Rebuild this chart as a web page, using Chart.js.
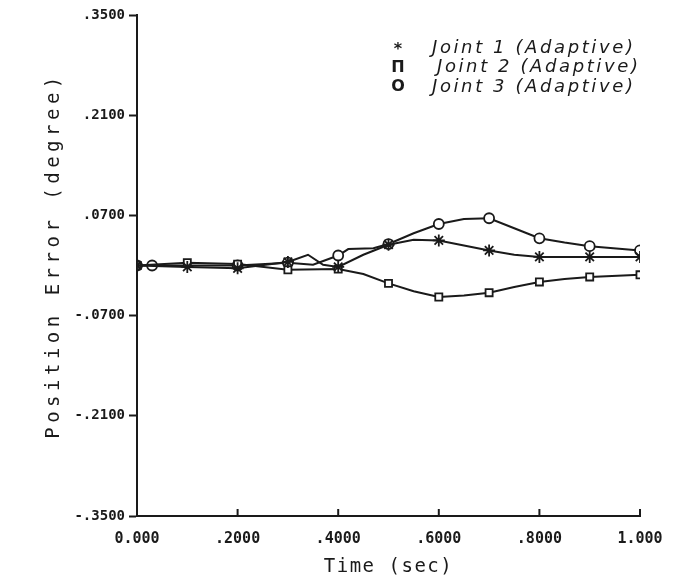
<!DOCTYPE html>
<html>
<head>
<meta charset="utf-8">
<script src="https://cdn.jsdelivr.net/npm/chart.js@4.4.0/dist/chart.umd.min.js"></script>
<style>
  body { margin: 0; background: #fff; }
</style>
</head>
<body>
<canvas id="chart" width="681" height="579"></canvas>
<script>
// time (sec) of each trace and its position error (degree)
const time1 = [0, 0.1, 0.2, 0.3, 0.34, 0.37, 0.4, 0.45, 0.5, 0.55, 0.6, 0.65, 0.7, 0.75, 0.8, 0.9, 1.0];
const joint1 = [0, -0.002, -0.004, 0.005, 0.015, 0.001, -0.002, 0.015, 0.029, 0.036, 0.035, 0.028, 0.021, 0.015, 0.012, 0.012, 0.012];
const marks1 = [0, 0.1, 0.2, 0.3, 0.4, 0.5, 0.6, 0.7, 0.8, 0.9, 1.0];

const time2 = [0, 0.1, 0.2, 0.3, 0.4, 0.45, 0.5, 0.55, 0.6, 0.65, 0.7, 0.75, 0.8, 0.85, 0.9, 1.0];
const joint2 = [0, 0.004, 0.002, -0.006, -0.005, -0.012, -0.025, -0.036, -0.044, -0.042, -0.038, -0.030, -0.023, -0.019, -0.016, -0.013];
const marks2 = [0, 0.1, 0.2, 0.3, 0.4, 0.5, 0.6, 0.7, 0.8, 0.9, 1.0];

const time3 = [0, 0.03, 0.1, 0.2, 0.3, 0.35, 0.4, 0.42, 0.47, 0.5, 0.55, 0.6, 0.65, 0.7, 0.75, 0.8, 0.85, 0.9, 1.0];
const joint3 = [0, 0.0, 0.0, 0.0, 0.004, 0.001, 0.014, 0.023, 0.024, 0.030, 0.045, 0.058, 0.065, 0.066, 0.052, 0.038, 0.032, 0.027, 0.021];
const marks3 = [0, 0.03, 0.2, 0.3, 0.4, 0.5, 0.6, 0.7, 0.8, 0.9, 1.0];

const seriesNames = ['Joint 1 (Adaptive)', 'Joint 2 (Adaptive)', 'Joint 3 (Adaptive)'];
const legendSymbols = ['*', '\u03A0', 'O'];

const yTicks = [0.35, 0.21, 0.07, -0.07, -0.21, -0.35];
const yTickLabels = ['.3500', '.2100', '.0700', '-.0700', '-.2100', '-.3500'];
const xTicks = [0, 0.2, 0.4, 0.6, 0.8, 1.0];
const xTickLabels = ['0.000', '.2000', '.4000', '.6000', '.8000', '1.000'];

const xTitle = 'Time (sec)';
const yTitle = 'Position Error (degree)';

const ink = '#1a1a1a';

function makeSet(label, times, values, marks, style) {
    return {
        label,
        data: times.map((t, i) => ({ x: t, y: values[i] })),
        showLine: true,
        borderColor: ink,
        borderWidth: 2,
        backgroundColor: '#fff',
        pointStyle: style,
        pointBorderColor: ink,
        pointBorderWidth: 1.8,
        pointRadius: ctx => marks.includes(times[ctx.dataIndex]) ? (style === 'star' ? 6 : 5) : 0,
        pointHoverRadius: 0
    };
}

// draws inward x ticks, the legend and both axis titles
const decorations = {
    id: 'decorations',
    afterDraw(chart) {
        const ctx = chart.ctx;
        const xs = chart.scales.x, ys = chart.scales.y;
        ctx.save();
        ctx.strokeStyle = ink;
        ctx.lineWidth = 2;
        xTicks.forEach(v => {
            const px = xs.getPixelForValue(v);
            ctx.beginPath();
            ctx.moveTo(px, ys.bottom);
            ctx.lineTo(px, ys.bottom - 7);
            ctx.stroke();
        });

        ctx.fillStyle = ink;
        ctx.textBaseline = 'middle';
        seriesNames.forEach((name, i) => {
            const y = 48 + i * 19.5;
            ctx.font = 'bold 16px "DejaVu Sans"';
            ctx.textAlign = 'center';
            ctx.letterSpacing = '0px';
            ctx.fillText(legendSymbols[i], 398, y + (i === 0 ? 2 : 0));
            ctx.font = 'oblique 18px "DejaVu Sans"';
            ctx.textAlign = 'left';
            ctx.letterSpacing = '2.6px';
            ctx.fillText(name, i === 1 ? 437 : 432, y);
        });

        ctx.font = '19px "DejaVu Sans Mono"';
        ctx.textAlign = 'center';
        ctx.letterSpacing = '1.5px';
        ctx.fillText(xTitle, (xs.left + xs.right) / 2, 567);
        ctx.translate(54, (ys.top + ys.bottom) / 2 - 10);
        ctx.rotate(-Math.PI / 2);
        ctx.letterSpacing = '4.5px';
        ctx.fillText(yTitle, 0, 0);
        ctx.restore();
    }
};

new Chart('chart', {
    type: 'scatter',
    data: {
        datasets: [
            makeSet(seriesNames[0], time1, joint1, marks1, 'star'),
            makeSet(seriesNames[1], time2, joint2, marks2, 'rect'),
            makeSet(seriesNames[2], time3, joint3, marks3, 'circle')
        ]
    },
    options: {
        responsive: false,
        animation: false,
        layout: { padding: { top: 15, right: 41, left: 0, bottom: 0 } },
        plugins: { legend: { display: false }, tooltip: { enabled: false } },
        scales: {
            x: {
                type: 'linear',
                min: 0,
                max: 1,
                afterFit: s => { s.height = 63; },
                afterBuildTicks: s => { s.ticks = xTicks.map(v => ({ value: v })); },
                grid: { display: true, drawOnChartArea: false, drawTicks: false, color: ink },
                border: { color: ink, width: 2 },
                ticks: {
                    padding: 14,
                    color: ink,
                    maxRotation: 0,
                    font: { family: 'DejaVu Sans Mono', size: 15, weight: 'bold' },
                    callback: (v, i) => xTickLabels[i]
                }
            },
            y: {
                type: 'linear',
                min: -0.35,
                max: 0.35,
                afterFit: s => { s.width = 137; },
                afterBuildTicks: s => { s.ticks = yTicks.map(v => ({ value: v })); },
                grid: { display: true, drawOnChartArea: false, tickLength: 8, tickWidth: 2, color: ink },
                border: { color: ink, width: 2 },
                ticks: {
                    padding: 4,
                    color: ink,
                    font: { family: 'DejaVu Sans Mono', size: 14, weight: 'bold' },
                    callback: (v, i) => yTickLabels[i]
                }
            }
        }
    },
    plugins: [decorations]
});
</script>
</body>
</html>
